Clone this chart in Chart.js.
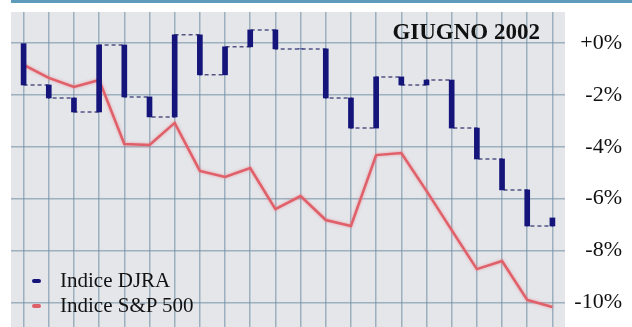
<!DOCTYPE html>
<html lang="it">
<head>
<meta charset="utf-8">
<title>Indice DJRA e S&amp;P 500 – Giugno 2002</title>
<script src="https://cdn.jsdelivr.net/npm/chart.js@4.4.1/dist/chart.umd.min.js"></script>
<style>
  html, body { margin: 0; padding: 0; background: #ffffff; }
  #wrap { position: relative; width: 632px; height: 327px; overflow: hidden; }
  #chart { position: absolute; left: 0; top: 0; }
  #titolo {
    position: absolute; right: 92px; top: 20px;
    font: bold 23px/24px "Liberation Serif", "Times New Roman", serif;
    color: #111; white-space: nowrap;
  }
  #legenda {
    position: absolute; left: 32px; top: 268px;
    font: 21px/25px "Liberation Serif", "Times New Roman", serif;
    color: #111;
  }
  #legenda .voce { position: relative; padding-left: 28px; white-space: nowrap; }
  #legenda .segno {
    position: absolute; left: 0; top: 11px; width: 9px; height: 4px; border-radius: 2px;
  }
</style>
</head>
<body>
<div id="wrap">
  <canvas id="chart" width="632" height="327"></canvas>
  <div id="titolo">GIUGNO 2002</div>
  <div id="legenda"></div>
</div>
<script>
// Sedute di borsa del mese
const sessions = ['1','2','3','4','5','6','7','8','9','10','11',
                  '12','13','14','15','16','17','18','19','20','21','22'];

// Variazione cumulata (%) dell'indice DJRA a fine seduta
const djraValues = [-1.62, -2.12, -2.66, -0.08, -2.08, -2.85, 0.31, -1.23, -0.15, 0.50, -0.23,
                    -0.23, -2.12, -3.28, -1.31, -1.62, -1.43, -3.28, -4.47, -5.66, -7.05, -6.74];

// Variazione cumulata (%) dell'indice S&P 500
const spValues = [-0.85, -1.35, -1.70, -1.43, -3.89, -3.93, -3.08, -4.93, -5.16, -4.82, -6.40,
                  -5.90, -6.82, -7.05, -4.32, -4.24, -5.70, -7.21, -8.71, -8.40, -9.90, -10.17];

// Etichette dell'asse percentuale (una ogni 2 punti)
const yTickLabels = { '0': '+0%', '-2': '-2%', '-4': '-4%', '-6': '-6%', '-8': '-8%', '-10': '-10%' };

const seriesNames = ['Indice DJRA', 'Indice S&P 500'];
const djraColor = '#14147a';
const spColor = '#e0606a';

// Barre verticali: dal livello della seduta precedente a quello della seduta corrente
const djraMoves = djraValues.map((v, i) => [i === 0 ? 0 : djraValues[i - 1], v]);

// Sfondo "carta millimetrata" e filetto superiore
const paperPlugin = {
  id: 'paper',
  beforeDraw(chart) {
    const { ctx, chartArea: a } = chart;
    ctx.save();
    ctx.fillStyle = '#ffffff';
    ctx.fillRect(0, 0, chart.width, chart.height);
    ctx.fillStyle = '#e4e6ea';
    ctx.fillRect(a.left, a.top, a.right - a.left, a.bottom - a.top);
    ctx.fillStyle = '#5f9bbb';
    ctx.fillRect(a.left, 0, chart.width - a.left, 3);
    ctx.restore();
  }
};

// Leggero alone sotto la linea S&P 500
const glowPlugin = {
  id: 'glow',
  beforeDatasetDraw(chart, args) {
    if (args.index === 2) {
      chart.ctx.save();
      chart.ctx.shadowColor = 'rgba(235,120,130,0.7)';
      chart.ctx.shadowBlur = 3;
    }
  },
  afterDatasetDraw(chart, args) {
    if (args.index === 2) chart.ctx.restore();
  }
};

// Nessun margine extra per le etichette agli estremi degli assi
function noAxisPadding(scale) {
  scale.paddingTop = 0;
  scale.paddingBottom = 0;
  scale.paddingLeft = 0;
  scale.paddingRight = 0;
}

new Chart(document.getElementById('chart'), {
  type: 'bar',
  data: {
    labels: sessions,
    datasets: [
      {
        type: 'bar',
        label: seriesNames[0],
        data: djraMoves,
        backgroundColor: djraColor,
        barThickness: 5,
        borderWidth: 0,
        order: 0
      },
      {
        type: 'line',
        label: seriesNames[0] + ' (livelli)',
        data: djraValues,
        stepped: 'before',
        borderColor: 'rgba(45,45,105,0.8)',
        borderWidth: 1.5,
        borderDash: [4, 3],
        pointRadius: 0,
        fill: false,
        order: 1
      },
      {
        type: 'line',
        label: seriesNames[1],
        data: spValues,
        borderColor: spColor,
        borderWidth: 2.5,
        tension: 0,
        pointRadius: 0,
        fill: false,
        order: 2
      }
    ]
  },
  options: {
    responsive: false,
    devicePixelRatio: 1,
    animation: false,
    layout: { padding: { left: 11, top: 12, right: 10, bottom: 0 } },
    plugins: {
      legend: { display: false },
      title: { display: false },
      tooltip: { enabled: false }
    },
    scales: {
      x: {
        type: 'category',
        offset: true,
        border: { display: false },
        grid: { offset: false, color: 'rgba(110,140,162,0.6)', lineWidth: 1.5, drawTicks: false },
        ticks: { display: false },
        afterFit(scale) { scale.height = 0; noAxisPadding(scale); }
      },
      y: {
        position: 'right',
        min: -10.94,
        max: 1.19,
        border: { display: false },
        grid: { color: 'rgba(110,140,162,0.6)', lineWidth: 1.5, drawTicks: false },
        ticks: {
          stepSize: 1,
          includeBounds: false,
          crossAlign: 'far',
          padding: 0,
          color: '#111',
          font: { family: '"Liberation Serif", "Times New Roman", serif', size: 22 },
          callback: (v) => yTickLabels[String(Math.round(v))] || ''
        },
        afterFit(scale) { scale.width = 57; noAxisPadding(scale); }
      }
    }
  },
  plugins: [paperPlugin, glowPlugin]
});

// Legenda
const legend = document.getElementById('legenda');
[[seriesNames[0], djraColor], [seriesNames[1], spColor]].forEach(([name, color]) => {
  const row = document.createElement('div');
  row.className = 'voce';
  const mark = document.createElement('span');
  mark.className = 'segno';
  mark.style.background = color;
  row.appendChild(mark);
  row.appendChild(document.createTextNode(name));
  legend.appendChild(row);
});
</script>
</body>
</html>
